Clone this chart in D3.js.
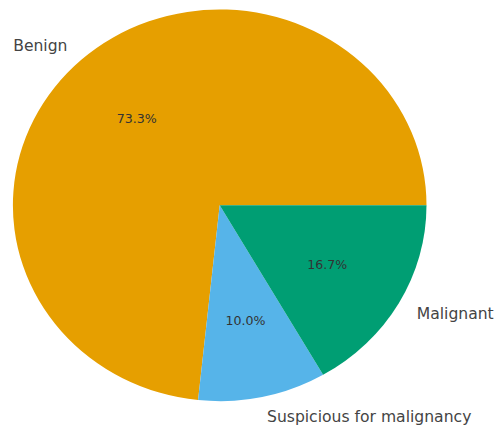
<!DOCTYPE html>
<html>
<head>
<meta charset="utf-8">
<script src="https://cdn.jsdelivr.net/npm/d3@7"></script>
<style>
  body { margin: 0; background: #fff; }
  text { font-family: "DejaVu Sans", sans-serif; }
</style>
</head>
<body>
<div id="chart"></div>
<script>
const labels = ["Benign", "Suspicious for malignancy", "Malignant"];
const counts = [22, 3, 5];
const colors = ["#E69F00", "#56B4E9", "#009E73"];

const width = 494, height = 425;
const cx = 219.7, cy = 205.3, rx = 206.8, ry = 195.8;

const svg = d3.select("#chart").append("svg")
  .attr("width", width)
  .attr("height", height);

const data = labels.map((l, i) => ({ label: l, value: counts[i], color: colors[i] }));
const total = d3.sum(counts);

// matplotlib style: start at 3 o'clock, go counterclockwise
const pie = d3.pie().value(d => d.value).sort(null)
  .startAngle(Math.PI / 2).endAngle(Math.PI / 2 - 2 * Math.PI);
const arcs = pie(data);
const arc = d3.arc().innerRadius(0).outerRadius(rx);

svg.append("g")
  .attr("transform", `translate(${cx},${cy}) scale(1,${ry / rx})`)
  .selectAll("path")
  .data(arcs)
  .enter()
  .append("path")
  .attr("d", arc)
  .attr("fill", d => d.data.color);

function pos(d, f) {
  const a = (d.startAngle + d.endAngle) / 2;
  return [cx + f * rx * Math.sin(a), cy - f * ry * Math.cos(a)];
}

svg.selectAll(".pct")
  .data(arcs)
  .enter()
  .append("text")
  .attr("class", "pct")
  .attr("x", d => pos(d, 0.6)[0])
  .attr("y", d => pos(d, 0.6)[1])
  .attr("text-anchor", "middle")
  .attr("dy", "0.36em")
  .style("font-size", "12.6px")
  .style("fill", "#333")
  .text(d => (d.data.value / total * 100).toFixed(1) + "%");

svg.selectAll(".lbl")
  .data(arcs)
  .enter()
  .append("text")
  .attr("class", "lbl")
  .attr("x", d => pos(d, 1.1)[0])
  .attr("y", d => pos(d, 1.1)[1])
  .attr("text-anchor", d => pos(d, 1.1)[0] < cx ? "end" : "start")
  .attr("dy", "0.36em")
  .style("font-size", "15.6px")
  .style("fill", "#444")
  .text(d => d.data.label);
</script>
</body>
</html>
